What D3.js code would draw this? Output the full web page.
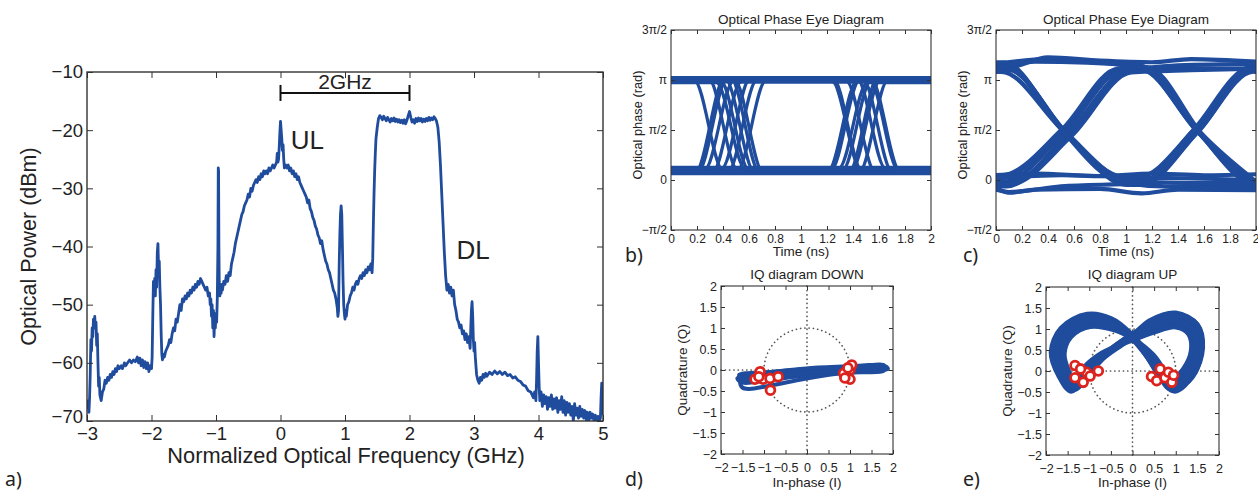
<!DOCTYPE html>
<html><head><meta charset="utf-8">
<script src="https://cdn.jsdelivr.net/npm/d3@7"></script>
<style>
body{margin:0;background:#fff;}
svg{display:block;}
</style></head><body>
<svg id="fig" width="1258" height="493"></svg>
<script>
// ---------------- DATA ----------------
// a) optical spectrum [normalized frequency GHz, power dBm]
const spectrum = [
[-3.00,-68.0],[-2.98,-66.5],[-2.97,-68.5],[-2.96,-66.0],[-2.95,-62.0],[-2.94,-56.0],[-2.93,-58.0],[-2.92,-54.0],[-2.91,-55.5],[-2.90,-52.5],
[-2.89,-53.5],[-2.88,-52.0],[-2.87,-54.0],[-2.86,-53.0],[-2.85,-57.0],[-2.84,-55.0],[-2.83,-60.0],[-2.82,-64.0],[-2.81,-62.5],[-2.80,-65.5],
[-2.78,-66.5],[-2.76,-65.0],[-2.74,-64.5],[-2.72,-63.0],[-2.70,-63.5],[-2.68,-62.5],[-2.66,-63.0],[-2.64,-62.0],[-2.62,-62.5],[-2.60,-61.5],
[-2.58,-62.0],[-2.56,-61.0],[-2.54,-61.5],[-2.52,-60.5],[-2.50,-61.0],[-2.47,-60.5],[-2.45,-61.0],[-2.42,-60.0],[-2.40,-60.5],[-2.37,-60.0],
[-2.34,-59.5],[-2.31,-60.0],[-2.28,-59.5],[-2.25,-59.8],[-2.22,-59.0],[-2.20,-60.0],[-2.18,-59.2],[-2.16,-60.5],[-2.14,-59.5],[-2.12,-60.8],
[-2.10,-59.8],[-2.08,-61.0],[-2.06,-60.0],[-2.04,-61.5],[-2.02,-60.5],[-2.00,-61.0],[-1.99,-59.0],[-1.98,-52.0],[-1.97,-46.0],[-1.96,-48.0],
[-1.95,-45.5],[-1.94,-48.5],[-1.93,-44.0],[-1.92,-47.0],[-1.91,-41.0],[-1.90,-39.5],[-1.89,-44.0],[-1.88,-42.5],[-1.87,-47.0],[-1.86,-50.0],
[-1.85,-55.0],[-1.84,-58.5],[-1.83,-59.5],[-1.82,-58.5],[-1.80,-59.0],[-1.78,-58.0],[-1.76,-57.5],[-1.74,-57.0],[-1.72,-56.0],[-1.70,-56.5],
[-1.68,-55.0],[-1.66,-54.0],[-1.64,-54.5],[-1.62,-52.5],[-1.60,-53.0],[-1.58,-51.5],[-1.56,-50.0],[-1.54,-51.0],[-1.52,-49.0],[-1.50,-49.5],
[-1.48,-48.5],[-1.46,-49.0],[-1.44,-48.0],[-1.42,-48.5],[-1.40,-47.5],[-1.38,-48.0],[-1.36,-47.0],[-1.34,-47.5],[-1.32,-46.5],[-1.30,-47.0],
[-1.28,-46.0],[-1.26,-46.5],[-1.24,-45.5],[-1.22,-46.0],[-1.20,-46.5],[-1.18,-47.0],[-1.16,-47.5],[-1.14,-47.0],[-1.12,-48.5],[-1.10,-48.0],
[-1.09,-50.0],[-1.08,-49.0],[-1.07,-52.0],[-1.06,-50.0],[-1.05,-54.0],[-1.04,-51.0],[-1.03,-55.5],[-1.02,-52.0],[-1.01,-54.0],[-1.00,-51.5],
[-0.99,-53.0],[-0.98,-49.0],[-0.97,-40.0],[-0.965,-26.5],[-0.96,-27.0],[-0.955,-40.0],[-0.95,-46.0],[-0.94,-48.5],[-0.93,-47.0],[-0.92,-48.0],
[-0.91,-46.5],[-0.90,-47.5],[-0.88,-46.0],[-0.86,-46.5],[-0.84,-45.0],[-0.82,-46.0],[-0.80,-44.5],[-0.78,-45.0],[-0.76,-43.0],[-0.74,-42.0],
[-0.72,-41.0],[-0.70,-39.5],[-0.68,-38.5],[-0.66,-37.5],[-0.64,-36.5],[-0.62,-35.5],[-0.60,-34.5],[-0.58,-34.0],[-0.56,-33.0],[-0.54,-32.5],
[-0.52,-32.0],[-0.50,-31.0],[-0.48,-31.5],[-0.46,-30.0],[-0.44,-30.5],[-0.42,-29.5],[-0.40,-29.0],[-0.38,-28.5],[-0.36,-29.0],[-0.34,-28.0],
[-0.32,-28.5],[-0.30,-27.5],[-0.28,-28.0],[-0.26,-27.0],[-0.24,-27.5],[-0.22,-27.0],[-0.20,-27.5],[-0.18,-26.5],[-0.16,-27.0],[-0.14,-26.5],
[-0.12,-26.0],[-0.10,-26.5],[-0.08,-26.0],[-0.06,-25.5],[-0.05,-24.0],[-0.04,-25.5],[-0.03,-25.0],[-0.02,-23.0],[-0.01,-20.5],[0.00,-18.5],
[0.01,-20.0],[0.02,-21.5],[0.03,-23.5],[0.04,-22.5],[0.05,-25.0],[0.06,-26.5],[0.08,-26.0],[0.10,-26.5],[0.12,-26.0],[0.14,-27.0],
[0.16,-26.5],[0.18,-27.5],[0.20,-27.0],[0.22,-28.0],[0.24,-27.5],[0.26,-28.5],[0.28,-28.0],[0.30,-29.0],[0.32,-29.5],[0.34,-30.0],
[0.36,-30.5],[0.38,-31.0],[0.40,-31.5],[0.42,-32.5],[0.44,-32.0],[0.46,-33.5],[0.48,-34.0],[0.50,-35.0],[0.52,-35.5],[0.54,-36.5],
[0.56,-37.0],[0.58,-38.0],[0.60,-38.5],[0.62,-39.5],[0.64,-39.0],[0.66,-40.5],[0.68,-41.5],[0.70,-42.5],[0.72,-43.0],[0.74,-44.0],
[0.76,-44.5],[0.78,-45.5],[0.80,-46.5],[0.82,-47.5],[0.84,-48.0],[0.86,-49.0],[0.88,-50.5],[0.89,-52.0],[0.90,-51.0],[0.91,-43.0],
[0.92,-38.0],[0.93,-34.5],[0.94,-33.0],[0.95,-34.5],[0.96,-40.0],[0.97,-46.0],[0.98,-50.0],[0.99,-51.5],[1.00,-52.5],[1.01,-51.0],
[1.02,-52.0],[1.04,-50.0],[1.06,-49.5],[1.08,-48.5],[1.10,-48.0],[1.12,-47.0],[1.14,-47.5],[1.16,-46.5],[1.18,-46.0],[1.20,-46.5],
[1.22,-45.5],[1.24,-45.0],[1.26,-45.5],[1.28,-44.5],[1.30,-45.0],[1.32,-44.0],[1.34,-44.5],[1.36,-43.5],[1.38,-44.0],[1.40,-43.0],
[1.42,-44.5],[1.43,-42.0],[1.44,-36.0],[1.45,-31.0],[1.46,-27.0],[1.47,-24.0],[1.48,-21.5],[1.50,-19.5],[1.52,-18.0],[1.54,-17.5],
[1.56,-17.8],[1.58,-18.2],[1.60,-17.6],[1.62,-18.0],[1.64,-18.4],[1.66,-17.8],[1.68,-18.2],[1.70,-18.6],[1.72,-18.0],[1.74,-18.4],
[1.76,-17.9],[1.78,-18.5],[1.80,-18.1],[1.82,-18.6],[1.84,-18.2],[1.86,-18.7],[1.88,-18.3],[1.90,-18.8],[1.92,-18.2],[1.94,-18.9],
[1.96,-18.3],[1.98,-17.5],[2.00,-16.8],[2.02,-17.8],[2.04,-18.6],[2.06,-18.2],[2.08,-18.8],[2.10,-18.0],[2.12,-18.5],[2.14,-17.9],
[2.16,-18.4],[2.18,-18.0],[2.20,-18.6],[2.22,-18.1],[2.24,-18.5],[2.26,-18.0],[2.28,-18.4],[2.30,-17.8],[2.32,-18.3],[2.34,-17.9],
[2.36,-18.2],[2.38,-17.7],[2.40,-18.0],[2.42,-18.5],[2.44,-19.5],[2.46,-22.0],[2.48,-26.0],[2.50,-31.0],[2.52,-36.0],[2.54,-41.0],
[2.56,-45.0],[2.58,-47.5],[2.60,-46.5],[2.62,-48.0],[2.64,-47.0],[2.66,-48.5],[2.68,-47.5],[2.70,-50.0],[2.72,-51.0],[2.74,-52.5],
[2.76,-53.0],[2.78,-54.0],[2.80,-53.5],[2.82,-55.0],[2.84,-54.5],[2.86,-56.0],[2.88,-55.0],[2.90,-56.5],[2.92,-55.5],[2.94,-57.5],
[2.95,-54.0],[2.96,-51.0],[2.97,-49.5],[2.98,-52.0],[2.99,-56.0],[3.00,-58.0],[3.01,-56.5],[3.02,-59.0],[3.03,-60.5],[3.04,-62.0],
[3.06,-63.0],[3.08,-63.5],[3.10,-62.5],[3.12,-63.0],[3.14,-62.0],[3.16,-62.5],[3.18,-61.8],[3.20,-62.3],[3.24,-61.6],[3.28,-62.0],
[3.32,-61.4],[3.36,-61.9],[3.40,-61.5],[3.44,-62.0],[3.48,-61.6],[3.52,-62.2],[3.56,-62.0],[3.60,-62.6],[3.64,-62.4],[3.68,-63.0],
[3.72,-63.2],[3.76,-63.8],[3.80,-64.0],[3.84,-64.8],[3.88,-65.0],[3.92,-66.0],[3.94,-65.0],[3.96,-66.5],[3.97,-63.0],[3.98,-58.0],
[3.99,-55.5],[4.00,-60.0],[4.01,-64.0],[4.02,-66.5],[4.04,-65.0],[4.06,-67.5],[4.08,-65.5],[4.10,-67.0],[4.12,-65.8],[4.14,-68.0],
[4.16,-66.0],[4.18,-67.5],[4.20,-65.5],[4.22,-68.0],[4.24,-66.2],[4.26,-67.8],[4.28,-66.0],[4.30,-68.5],[4.32,-66.5],[4.34,-68.0],
[4.36,-65.8],[4.38,-68.5],[4.40,-66.5],[4.42,-69.0],[4.44,-66.8],[4.46,-68.5],[4.48,-67.0],[4.50,-69.0],[4.52,-67.5],[4.54,-70.0],
[4.56,-67.0],[4.58,-69.0],[4.60,-67.8],[4.62,-69.5],[4.64,-67.5],[4.66,-69.2],[4.68,-68.0],[4.70,-69.5],[4.72,-68.2],[4.74,-69.8],
[4.76,-68.5],[4.78,-70.0],[4.80,-68.5],[4.82,-69.5],[4.84,-68.8],[4.86,-70.0],[4.88,-69.0],[4.90,-69.8],[4.92,-69.2],[4.94,-70.0],
[4.96,-69.5],[4.97,-66.0],[4.98,-63.5],[4.99,-66.0],[5.00,-69.0]
];
const specXTicks = [-3,-2,-1,0,1,2,3,4,5];
const specYTicks = [-70,-60,-50,-40,-30,-20,-10];
const bracketGHz = [0, 2];
const bracketLevel = -13.6;
const specLabels = [{text:"UL", f:0.16, p:-23.3}, {text:"DL", f:2.73, p:-42.2}];

// b) eye diagram (down) : traces of [time ns, phase rad]
const eyeDownTraces = [
 [[0,3.12],[0.18,3.12],[0.40,0.30],[1.23,0.30],[1.45,3.12],[2,3.12]],
 [[0,0.28],[0.21,0.28],[0.43,3.16],[1.25,3.16],[1.47,0.28],[2,0.28]],
 [[0,3.18],[0.29,3.18],[0.51,0.34],[2,0.34]],
 [[0,0.24],[0.32,0.24],[0.54,3.08],[2,3.08]],
 [[0,3.10],[1.35,3.10],[1.57,0.26],[2,0.26]],
 [[0,0.32],[1.39,0.32],[1.61,3.14],[2,3.14]],
 [[0,3.15],[0.42,3.15],[0.64,0.27],[1.45,0.27],[1.67,3.15],[2,3.15]],
 [[0,0.30],[0.51,0.30],[0.73,3.12],[1.53,3.12],[1.75,0.30],[2,0.30]],
 [[0,3.06],[0.35,3.06],[0.57,0.36],[1.29,0.36],[1.51,3.06],[2,3.06]],
 [[0,0.36],[0.39,0.36],[0.61,3.20],[1.43,3.20],[1.65,0.36],[2,0.36]],
 [[0,3.12],[0.49,3.12],[0.71,0.22],[2,0.22]],
 [[0,0.26],[0.19,0.26],[0.41,3.18],[2,3.18]],
 [[0,3.08],[2,3.08]],
 [[0,3.22],[2,3.22]],
 [[0,0.20],[2,0.20]],
 [[0,0.40],[2,0.40]],
 [[0,3.16],[1.54,3.16],[1.76,0.30],[2,0.30]],
 [[0,0.30],[1.21,0.30],[1.43,3.10],[2,3.10]],
 [[0,0.34],[0.26,0.34],[0.48,3.10],[1.24,3.10],[1.46,0.34],[2,0.34]],
 [[0,3.20],[0.46,3.20],[0.68,0.25],[1.37,0.25],[1.59,3.20],[2,3.20]],
 [[0,3.14],[0.38,3.14],[0.60,0.31],[1.32,0.31],[1.54,3.14],[2,3.14]],
 [[0,0.27],[0.44,0.27],[0.66,3.13],[1.48,3.13],[1.70,0.27],[2,0.27]]
];
// c) eye diagram (up)
const eyeUpTraces = [
 [[0,-0.05],[0.06,-0.05],[0.53,1.52],[0.98,3.45],[1.12,3.45],[1.55,1.52],[1.98,-0.1],[2,-0.1]],
 [[0,3.5],[0.08,3.5],[0.53,1.5],[1.0,-0.15],[1.12,-0.15],[1.55,1.5],[1.98,3.45],[2,3.45]],
 [[0,0.1],[0.05,0.1],[0.52,1.55],[0.96,3.42],[1.3,3.5],[2,3.5]],
 [[0,3.45],[0.1,3.45],[0.54,1.48],[1.0,-0.1],[1.3,-0.2],[2,-0.2]],
 [[0,3.65],[0.4,3.8],[1.12,3.5],[1.55,1.52],[1.98,-0.05],[2,-0.05]],
 [[0,-0.3],[0.1,-0.38],[0.5,-0.2],[1.12,-0.1],[1.55,1.5],[1.98,3.4],[2,3.4]],
 [[0,3.6],[0.1,3.55],[0.4,3.85],[0.8,3.75],[1.2,3.7],[1.5,3.8],[2,3.72]],
 [[0,0.15],[0.3,0.2],[0.8,0.12],[1.2,0.2],[1.6,0.15],[2,0.18]],
 [[0,-0.25],[0.1,-0.4],[0.3,-0.3],[0.8,-0.28],[1.12,-0.42],[1.4,-0.3],[2,-0.32]],
 [[0,0.15],[0.04,0.15],[0.51,1.6],[0.94,3.5],[1.14,3.52],[1.57,1.45],[2,-0.2]],
 [[0,3.6],[0.06,3.6],[0.55,1.45],[1.02,0.0],[1.14,0.0],[1.53,1.55],[1.96,3.55],[2,3.55]],
 [[0,3.5],[0.3,3.72],[1.1,3.6],[1.57,1.48],[2,-0.25]],
 [[0,0.05],[0.5,0.15],[1.1,0.1],[1.53,1.6],[1.96,3.5],[2,3.5]],
 [[0,-0.2],[0.08,-0.2],[0.55,1.45],[1.0,3.4],[1.4,3.6],[2,3.65]],
 [[0,3.7],[0.06,3.7],[0.52,1.56],[0.98,0.1],[1.5,0.05],[2,0.0]],
 [[0,0.0],[0.08,-0.1],[0.56,1.4],[1.02,3.5],[1.16,3.55],[1.59,1.42],[2,-0.05]],
 [[0,3.4],[0.04,3.4],[0.5,1.62],[0.96,-0.05],[1.1,-0.1],[1.52,1.58],[1.95,3.5],[2,3.5]],
 [[0,-0.1],[0.1,-0.15],[0.58,1.38],[1.04,3.38],[1.5,3.45],[2,3.5]],
 [[0,3.55],[0.12,3.5],[0.49,1.65],[0.95,0.0],[1.5,-0.1],[2,-0.1]]
];
const eyeTimeTicks = [0,0.2,0.4,0.6,0.8,1,1.2,1.4,1.6,1.8,2];
const eyePhaseTicks = [-Math.PI/2, 0, Math.PI/2, Math.PI, 3*Math.PI/2];
const eyePhaseLabels = ["\u2212\u03c0/2","0","\u03c0/2","\u03c0","3\u03c0/2"];

// d) IQ diagram DOWN : closed trajectories [I, Q]
const iqDownLoops = [
 [[-1.62,-0.2],[-1.2,-0.1],[-0.5,-0.02],[0.3,0.04],[1.1,0.08],[1.8,0.1],[1.88,0.03],[1.4,-0.02],[0.5,-0.08],[-0.3,-0.16],[-1.0,-0.26],[-1.5,-0.3]],
 [[-1.5,-0.42],[-1.35,-0.45],[-0.9,-0.38],[-0.2,-0.24],[0.6,-0.1],[1.5,-0.02],[1.82,0.02],[1.3,0.05],[0.4,0.02],[-0.5,-0.06],[-1.2,-0.15],[-1.55,-0.28]],
 [[-1.4,-0.15],[-0.8,-0.06],[0,0.0],[0.8,0.06],[1.6,0.08],[1.75,0.04],[1.2,-0.04],[0.3,-0.1],[-0.6,-0.18],[-1.2,-0.24]],
 [[-1.55,-0.25],[-0.7,-0.1],[0.2,-0.02],[1.0,0.03],[1.7,0.04],[1.78,-0.02],[0.9,-0.06],[0,-0.12],[-0.9,-0.2]],
 [[-1.3,-0.2],[-0.5,-0.12],[0.4,-0.05],[1.3,0.0],[1.85,0.06],[1.6,0.1],[0.7,0.06],[-0.2,-0.02],[-1.0,-0.1],[-1.4,-0.12]],
 [[-1.58,-0.12],[-0.8,-0.04],[0.1,0.05],[1.2,0.1],[1.78,0.12],[1.7,0.06],[0.8,0.0],[-0.1,-0.08],[-0.9,-0.16],[-1.45,-0.22]]
];
const iqDownSymbols = [[-1.21,-0.22],[-1.09,-0.04],[-1.02,-0.22],[-0.86,-0.2],[-0.85,-0.48],[-0.67,-0.16],[-1.12,-0.16],
 [0.85,-0.08],[1.0,0.0],[1.0,-0.22],[1.04,0.12],[0.88,-0.19],[0.95,0.05]];
// e) IQ diagram UP
const iqUpLoops = [
 [[0.4,1.2],[1.0,1.38],[1.5,1.1],[1.62,0.55],[1.4,-0.1],[0.98,-0.48],[0.68,-0.2],[0.32,0.38],[-0.05,0.9],[-0.5,1.25],[-1.05,1.35],[-1.65,1.02],[-1.88,0.45],[-1.7,-0.12],[-1.42,-0.48],[-1.08,-0.1],[-0.62,0.42],[-0.2,0.75],[0.05,0.9]],
 [[0.45,1.0],[1.0,1.15],[1.35,0.95],[1.45,0.5],[1.25,0.0],[0.92,-0.32],[0.72,-0.08],[0.42,0.35],[0.0,0.8],[-0.45,1.05],[-1.0,1.15],[-1.5,0.88],[-1.68,0.42],[-1.55,-0.05],[-1.35,-0.35],[-1.12,-0.02],[-0.72,0.35],[-0.25,0.65],[0.05,0.8]],
 [[0.38,1.08],[0.95,1.26],[1.42,1.02],[1.55,0.52],[1.32,-0.08],[0.9,-0.45],[0.62,-0.12],[0.3,0.4],[-0.08,0.88],[-0.55,1.2],[-1.1,1.28],[-1.62,0.95],[-1.8,0.4],[-1.62,-0.15],[-1.35,-0.45],[-1.02,-0.08],[-0.58,0.42],[-0.18,0.72],[0.08,0.86]],
 [[0.5,1.15],[1.05,1.3],[1.5,1.0],[1.58,0.45],[1.38,-0.15],[1.0,-0.4],[0.78,-0.1],[0.45,0.3],[0.02,0.82],[-0.42,1.12],[-0.98,1.22],[-1.55,1.0],[-1.78,0.5],[-1.66,-0.02],[-1.45,-0.4],[-1.15,-0.15],[-0.7,0.3],[-0.22,0.68],[0.1,0.84]],
 [[0.35,1.05],[0.9,1.22],[1.38,1.05],[1.52,0.6],[1.3,0.02],[0.88,-0.38],[0.6,-0.05],[0.28,0.45],[-0.1,0.92],[-0.6,1.22],[-1.15,1.22],[-1.7,0.85],[-1.82,0.3],[-1.6,-0.22],[-1.32,-0.42],[-0.98,0.0],[-0.55,0.48],[-0.15,0.78],[0.02,0.9]],
 [[0.42,1.12],[1.02,1.32],[1.48,1.12],[1.6,0.62],[1.42,0.05],[1.02,-0.45],[0.72,-0.22],[0.38,0.28],[-0.02,0.78],[-0.48,1.15],[-1.02,1.3],[-1.58,1.05],[-1.85,0.55],[-1.72,-0.05],[-1.4,-0.45],[-1.12,-0.2],[-0.68,0.3],[-0.25,0.62],[0.0,0.8]],
 [[0.48,0.92],[1.0,1.05],[1.3,0.88],[1.36,0.48],[1.18,0.05],[0.9,-0.22],[0.74,0.0],[0.48,0.38],[0.02,0.76],[-0.42,0.98],[-0.98,1.06],[-1.42,0.82],[-1.58,0.42],[-1.48,0.0],[-1.32,-0.26],[-1.14,0.06],[-0.78,0.38],[-0.3,0.62],[0.06,0.76]],
 [[0.4,1.0],[0.96,1.2],[1.4,0.98],[1.5,0.45],[1.28,-0.05],[0.94,-0.38],[0.66,-0.1],[0.36,0.36],[-0.04,0.84],[-0.52,1.12],[-1.06,1.2],[-1.58,0.92],[-1.74,0.38],[-1.58,-0.1],[-1.38,-0.4],[-1.06,-0.05],[-0.64,0.38],[-0.2,0.7],[0.04,0.84]]
];
const iqUpSymbols = [[-1.33,0.13],[-1.33,-0.16],[-1.14,-0.27],[-1.06,-0.03],[-0.79,0.0],[-1.2,0.05],[-0.98,-0.12],
 [0.64,0.05],[0.44,-0.13],[0.56,-0.23],[0.75,-0.16],[0.91,-0.27],[0.83,-0.03],[0.95,-0.1]];
const iqTicks = [-2,-1.5,-1,-0.5,0,0.5,1,1.5,2];
const unitCircleR = 1;

// ---------------- DRAWING ----------------
const FONT = '"Liberation Sans", Arial, Helvetica, sans-serif';
const LFONT = '"Noto Sans", "Open Sans", sans-serif';
const BLUE = "#1f4c9c", RED = "#dc231d", INK = "#222", AX = "#333";
const svg = d3.select("#fig");
const defs = svg.append("defs");

function axes(g, x, y, o) {
  const [xl, xr] = x.range(), [yb, yt] = y.range();
  const st = sel => {
    sel.select(".domain").remove();
    sel.attr("font-family", FONT).attr("font-size", o.fs);
    sel.selectAll("line").attr("stroke", AX).attr("stroke-width", 1);
    sel.selectAll("text").attr("fill", INK);
  };
  const bottom = g.append("g").attr("transform", `translate(0,${yb})`)
    .call(d3.axisBottom(x).tickValues(o.xt).tickFormat(o.xf).tickSizeInner(-o.tl).tickSizeOuter(0).tickPadding(o.xp)).call(st);
  if (o.lastEnd) bottom.selectAll(".tick text").filter((d, i, n) => i === n.length - 1).attr("text-anchor", "end").attr("dx", 3);
  g.append("g").attr("transform", `translate(0,${yt})`)
    .call(d3.axisTop(x).tickValues(o.xt).tickFormat("").tickSizeInner(-o.tl).tickSizeOuter(0)).call(st);
  const left = g.append("g").attr("transform", `translate(${xl},0)`)
    .call(d3.axisLeft(y).tickValues(o.yt).tickFormat(o.yf).tickSizeInner(-o.tl).tickSizeOuter(0).tickPadding(o.yp)).call(st);
  if (o.firstUp) left.selectAll(".tick text").filter((d, i) => i === 0).attr("dy", "0.1em");
  g.append("g").attr("transform", `translate(${xr},0)`)
    .call(d3.axisRight(y).tickValues(o.yt).tickFormat("").tickSizeInner(-o.tl).tickSizeOuter(0)).call(st);
  g.append("rect").attr("x", xl).attr("y", yt).attr("width", xr - xl).attr("height", yb - yt)
    .attr("fill", "none").attr("stroke", AX).attr("stroke-width", o.sw);
}
function clip(id, x, y) {
  const [xl, xr] = x.range(), [yb, yt] = y.range();
  defs.append("clipPath").attr("id", id).append("rect")
    .attr("x", xl).attr("y", yt).attr("width", xr - xl).attr("height", yb - yt);
  return `url(#${id})`;
}
function text(g, s, x, y, o) {
  const t = g.append("text").attr("x", x).attr("y", y).text(s)
    .attr("font-family", o.ff || FONT).attr("font-size", o.fs).attr("fill", INK)
    .attr("text-anchor", o.anchor || "middle");
  if (o.rot) t.attr("transform", `rotate(-90,${x},${y})`);
  return t;
}

// ---- a) spectrum
{
  const g = svg.append("g");
  const x = d3.scaleLinear().domain([-3, 5]).range([87, 603]);
  const y = d3.scaleLinear().domain([-70, -10]).range([421, 72]);
  g.append("path").datum(spectrum).attr("clip-path", clip("ca", x, y))
    .attr("d", d3.line().x(d => x(d[0])).y(d => y(d[1])))
    .attr("fill", "none").attr("stroke", BLUE).attr("stroke-width", 2.8).attr("stroke-linejoin", "round");
  axes(g, x, y, {xt: specXTicks, yt: specYTicks, xf: d3.format(""), yf: d3.format(""), fs: 18.5, tl: 6, xp: 6, yp: 4, sw: 1.4, firstUp: true});
  const by = y(bracketLevel);
  g.append("line").attr("x1", x(bracketGHz[0])).attr("x2", x(bracketGHz[1])).attr("y1", by).attr("y2", by).attr("stroke", "#111").attr("stroke-width", 2);
  bracketGHz.forEach(f => g.append("line").attr("x1", x(f)).attr("x2", x(f)).attr("y1", by - 8).attr("y2", by + 8).attr("stroke", "#111").attr("stroke-width", 2));
  text(g, "2GHz", x((bracketGHz[0] + bracketGHz[1]) / 2), by - 4, {fs: 21});
  specLabels.forEach(l => text(g, l.text, x(l.f), y(l.p), {fs: 26, anchor: "start"}));
  text(g, "Optical Power (dBm)", 36, (72 + 421) / 2, {fs: 21.5, rot: true});
  text(g, "Normalized Optical Frequency (GHz)", (87 + 603) / 2 + 1, 463, {fs: 21.8});
  text(g, "a)", 5, 486, {fs: 19.5, ff: LFONT, anchor: "start"});
}

// ---- eye diagrams
function eye(traces, xr, label, lx, sw, lastEnd) {
  const g = svg.append("g");
  const x = d3.scaleLinear().domain([0, 2]).range(xr);
  const y = d3.scaleLinear().domain([-Math.PI / 2, 3 * Math.PI / 2]).range([230, 30]);
  const cp = clip("ce" + label, x, y);
  const line = d3.line().x(d => x(d[0])).y(d => y(d[1])).curve(d3.curveMonotoneX);
  g.append("g").attr("clip-path", cp).selectAll("path").data(traces).join("path")
    .attr("d", line).attr("fill", "none").attr("stroke", BLUE).attr("stroke-width", sw);
  axes(g, x, y, {xt: eyeTimeTicks, yt: eyePhaseTicks, xf: d3.format(""), yf: (d, i) => eyePhaseLabels[i], fs: 12, tl: 4, xp: 4, yp: 4, sw: 1.1, lastEnd});
  const cx = (xr[0] + xr[1]) / 2;
  text(g, "Optical Phase Eye Diagram", cx, 24, {fs: 13.5});
  text(g, "Time (ns)", cx, 256, {fs: 13.5});
  text(g, "Optical phase (rad)", xr[0] - 29, 125, {fs: 12.8, rot: true});
  text(g, label + ")", lx, 262, {fs: 19.5, ff: LFONT, anchor: "start"});
}
eye(eyeDownTraces, [671, 931], "b", 625, 3.2, false);
eye(eyeUpTraces, [996, 1256], "c", 963, 4.2, true);

// ---- IQ diagrams
function iq(loops, syms, xr, yr, title, label, lx, sw) {
  const g = svg.append("g");
  const x = d3.scaleLinear().domain([-2, 2]).range(xr);
  const y = d3.scaleLinear().domain([-2, 2]).range(yr);
  const dot = {stroke: "#555", "stroke-width": 1.7, "stroke-dasharray": "0.1,4.2", "stroke-linecap": "round", fill: "none"};
  const applyDot = s => Object.entries(dot).forEach(([k, v]) => s.attr(k, v));
  g.append("line").attr("x1", x(0)).attr("x2", x(0)).attr("y1", y(-2)).attr("y2", y(2)).call(applyDot);
  g.append("line").attr("x1", x(-2)).attr("x2", x(2)).attr("y1", y(0)).attr("y2", y(0)).call(applyDot);
  g.append("ellipse").attr("cx", x(0)).attr("cy", y(0)).attr("rx", x(unitCircleR) - x(0)).attr("ry", y(0) - y(unitCircleR)).call(applyDot);
  const line = d3.line().x(d => x(d[0])).y(d => y(d[1])).curve(d3.curveCatmullRomClosed.alpha(0.5));
  g.append("g").selectAll("path").data(loops).join("path")
    .attr("d", line).attr("fill", "none").attr("stroke", BLUE).attr("stroke-width", sw);
  g.append("g").selectAll("circle").data(syms).join("circle")
    .attr("cx", d => x(d[0])).attr("cy", d => y(d[1])).attr("r", 4.4)
    .attr("fill", "#fff").attr("stroke", RED).attr("stroke-width", 2.8);
  axes(g, x, y, {xt: iqTicks, yt: iqTicks, xf: d3.format(""), yf: d3.format(""), fs: 12.5, tl: 4, xp: 9, yp: 4, sw: 1.1});
  const cx = (xr[0] + xr[1]) / 2;
  text(g, title, cx, 279, {fs: 13.5});
  text(g, "In-phase (I)", cx, 487, {fs: 13.5});
  text(g, "Quadrature (Q)", xr[0] - 34, (yr[0] + yr[1]) / 2, {fs: 13.5, rot: true});
  text(g, label + ")", lx, 486, {fs: 19.5, ff: LFONT, anchor: "start"});
}
iq(iqDownLoops, iqDownSymbols, [721, 893], [454, 286], "IQ diagram DOWN", "d", 625, 4);
iq(iqUpLoops, iqUpSymbols, [1046, 1219], [455, 287], "IQ diagram UP", "e", 963, 5);
</script>
</body></html>
